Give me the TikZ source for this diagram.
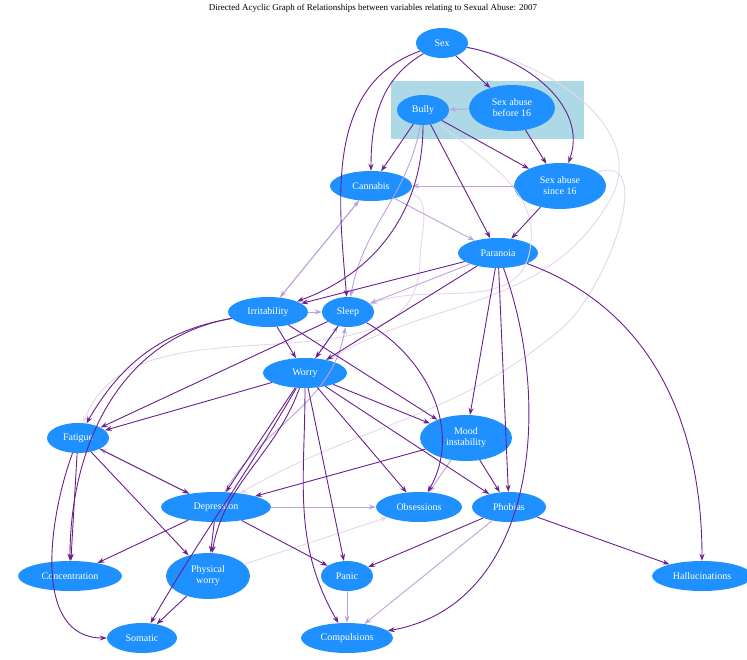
\documentclass[tikz,border=0pt]{standalone}
\usepackage{fontspec}
\setmainfont{Liberation Serif}
\usetikzlibrary{shapes.geometric,arrows.meta}
\definecolor{nb}{HTML}{1E90FF}
\definecolor{dk}{HTML}{6B1F8F}
\definecolor{lt}{HTML}{BFA2DA}
\definecolor{vl}{HTML}{E4D6EC}
\begin{document}
\begin{tikzpicture}[x=1pt,y=-1pt,
 n/.style={ellipse,fill=nb,text=white,font=\fontsize{10}{11}\selectfont,align=center,inner sep=0pt,minimum height=30pt},
 e/.style={draw=dk,line width=0.9pt,-{Stealth[length=7pt,width=5pt]}},
 l/.style={draw=lt,line width=0.9pt,-{Stealth[length=7pt,width=5pt]}},
 v/.style={draw=vl,line width=0.9pt,-{Stealth[length=7pt,width=5pt]}}]
\useasboundingbox (0,0) rectangle (747,659);
\node[font=\fontsize{9}{10}\selectfont] (title) at (373,8) {Directed Acyclic Graph of Relationships between variables relating to Sexual Abuse: 2007};
\fill[fill={rgb,255:red,173;green,216;blue,230}] (391,81) rectangle (584,139);
\node[n,minimum width=52pt] (sex) at (442,43) {Sex};
\node[n,minimum width=86pt,minimum height=46pt] (sab) at (512,108) {Sex abuse\\before 16};
\node[n,minimum width=52pt] (bully) at (423,110) {Bully};
\node[n,minimum width=82pt] (can) at (371,186) {Cannabis};
\node[n,minimum width=92pt,minimum height=46pt] (sas) at (560,186) {Sex abuse\\since 16};
\node[n,minimum width=80pt] (par) at (498,253) {Paranoia};
\node[n,minimum width=80pt] (irr) at (268,312) {Irritability};
\node[n,minimum width=52pt] (slp) at (348,312) {Sleep};
\node[n,minimum width=84pt] (wor) at (305,373) {Worry};
\node[n,minimum width=62pt] (fat) at (78,438) {Fatigue};
\node[n,minimum width=92pt,minimum height=46pt] (mood) at (466,438) {Mood\\instability};
\node[n,minimum width=110pt] (dep) at (216,507) {Depression};
\node[n,minimum width=86pt] (obs) at (419,507) {Obsessions};
\node[n,minimum width=74pt] (pho) at (509,507) {Phobias};
\node[n,minimum width=104pt] (con) at (70,576) {Concentration};
\node[n,minimum width=84pt,minimum height=46pt] (phw) at (208,576) {Physical\\worry};
\node[n,minimum width=52pt] (pan) at (347,576) {Panic};
\node[n,minimum width=100pt] (hal) at (702,576) {Hallucinations};
\node[n,minimum width=70pt] (som) at (142,638) {Somatic};
\node[n,minimum width=92pt] (com) at (347,638) {Compulsions};
% very light
\draw[v] (sex) to[out=-10,in=60] (610,200) to[out=-120,in=30] (wor);
\draw[v] (sas) to[out=20,in=40] (560,330) to[out=-140,in=30] (dep);
\draw[v] (bully) to[out=-40,in=80] (530,250) to[out=-100,in=20] (slp);
\draw[v] (can) to[out=-10,in=90] (420,260) to[out=-90,in=70] (fat);
\draw[v] (phw) to (obs);
% light
\draw[l] (sab) -- (bully);
\draw[l] (sas) -- (can);
\draw[l] (can) -- (par);
\draw[l] (can) -- (irr);
\draw[l] (irr) -- (can);
\draw[l] (bully) to[out=-100,in=80] (slp);
\draw[l] (par) -- (slp);
\draw[l] (irr) -- (slp);
\draw[l] (wor) -- (slp);
\draw[l] (dep) to[out=60,in=-100] (slp);
\draw[l] (dep) -- (fat);
\draw[l] (dep) -- (obs);
\draw[l] (mood) -- (obs);
\draw[l] (pho) -- (com);
\draw[l] (pan) -- (com);
% dark
\draw[e] (sex) -- (sab);
\draw[e] (sex) to[out=-150,in=90] (can);
\draw[e] (sex) to[out=-10,in=70] (sas);
\draw[e] (sex) to[out=-160,in=95] (slp);
\draw[e] (sab) -- (sas);
\draw[e] (bully) -- (can);
\draw[e] (bully) -- (sas);
\draw[e] (bully) -- (par);
\draw[e] (bully) to[out=-90,in=20] (irr);
\draw[e] (sas) -- (par);
\draw[e] (par) -- (irr);
\draw[e] (par) -- (wor);
\draw[e] (par) -- (mood);
\draw[e] (par) -- (pho);
\draw[e] (par) to[out=-20,in=90] (hal);
\draw[e] (par) to[out=-70,in=10] (com);
\draw[e] (irr) -- (wor);
\draw[e] (irr) to[out=-170,in=60] (fat);
\draw[e] (irr) to[out=-170,in=90] (con);
\draw[e] (irr) -- (mood);
\draw[e] (slp) -- (wor);
\draw[e] (slp) to[out=-30,in=60] (obs);
\draw[e] (wor) -- (fat);
\draw[e] (wor) -- (dep);
\draw[e] (wor) -- (mood);
\draw[e] (wor) -- (obs);
\draw[e] (wor) -- (pho);
\draw[e] (wor) to[out=-110,in=80] (phw);
\draw[e] (wor) -- (pan);
\draw[e] (wor) to[out=-90,in=120] (com);
\draw[e] (wor) to[out=-120,in=60] (som);
\draw[e] (slp) -- (fat);
\draw[e] (fat) -- (dep);
\draw[e] (fat) -- (con);
\draw[e] (fat) -- (phw);
\draw[e] (fat) to[out=-110,in=180] (som);
\draw[e] (mood) -- (dep);
\draw[e] (mood) -- (pho);
\draw[e] (dep) -- (con);
\draw[e] (dep) -- (phw);
\draw[e] (dep) -- (pan);
\draw[e] (pho) -- (pan);
\draw[e] (pho) -- (hal);
\draw[e] (phw) -- (som);
\end{tikzpicture}
\end{document}
